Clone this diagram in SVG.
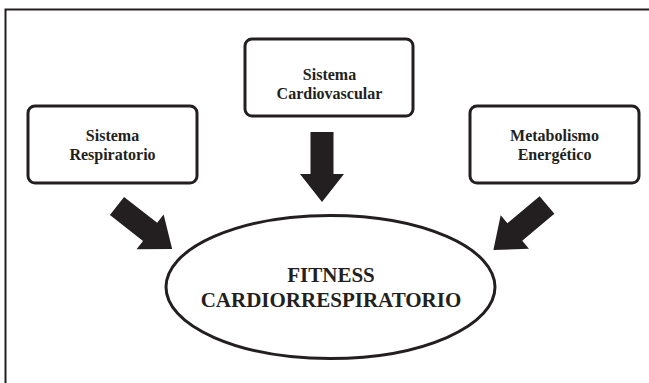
<svg xmlns="http://www.w3.org/2000/svg" width="649" height="383" viewBox="0 0 649 383">
<style>
.box{fill:#fff;stroke:#231f20;stroke-width:3}
.t{font-family:"Liberation Serif","Times New Roman",serif;font-weight:bold;fill:#231f20;text-anchor:middle}
.s{font-size:16px}
.b{font-size:21px}
.arr{fill:#231f20}
</style>
<defs>
<path id="arrow" d="M0,-11.5 H42 V-22 L70,0 L42,22 V11.5 H0 Z"/>
</defs>
<rect x="0" y="0" width="649" height="383" fill="#fff"/>
<rect x="5.5" y="9.5" width="700" height="400" fill="none" stroke="#231f20" stroke-width="2"/>
<g id="respiratorio">
<rect class="box" x="28" y="106" width="169" height="77" rx="7"/>
<text class="t s" x="112.5" y="141">Sistema</text>
<text class="t s" x="112.5" y="160">Respiratorio</text>
</g>
<g id="cardiovascular">
<rect class="box" x="245" y="39" width="168" height="77" rx="7"/>
<text class="t s" x="329.5" y="80">Sistema</text>
<text class="t s" x="329.5" y="99">Cardiovascular</text>
</g>
<g id="metabolismo">
<rect class="box" x="470" y="106" width="169" height="77" rx="7"/>
<text class="t s" x="554.5" y="141">Metabolismo</text>
<text class="t s" x="554.5" y="160">Energético</text>
</g>
<g id="fitness">
<ellipse cx="330.5" cy="287" rx="164.5" ry="71.5" fill="#fff" stroke="#231f20" stroke-width="3"/>
<text class="t b" x="331" y="282">FITNESS</text>
<text class="t b" x="331" y="307">CARDIORRESPIRATORIO</text>
</g>
<g id="connectors" class="arr">
<use href="#arrow" transform="translate(117,206) rotate(38)"/>
<use href="#arrow" transform="translate(322,132) rotate(90)"/>
<use href="#arrow" transform="translate(547,205) rotate(140)"/>
</g>
</svg>
